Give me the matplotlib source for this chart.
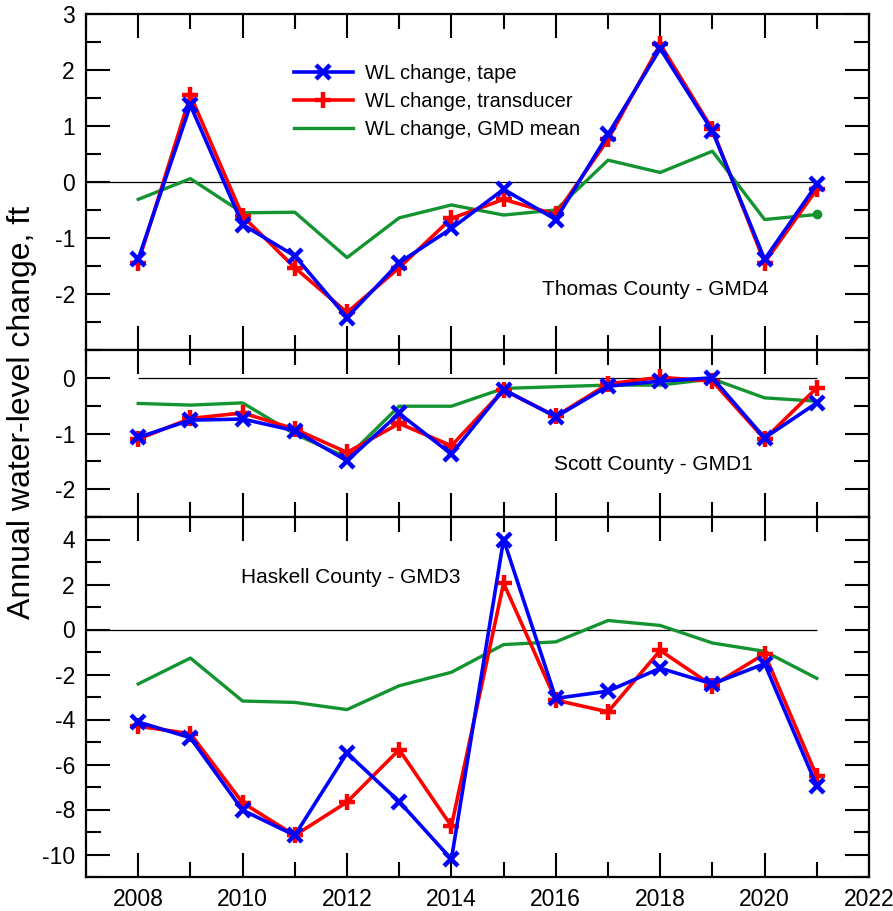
import matplotlib
matplotlib.use('Agg')
import matplotlib.pyplot as plt
from matplotlib.ticker import MultipleLocator

plt.rcParams['font.family'] = ['Liberation Sans', 'DejaVu Sans']
plt.rcParams['axes.unicode_minus'] = False

# data
years = list(range(2008, 2022))

thomas_tape = [-1.38, 1.37, -0.76, -1.32, -2.42, -1.44, -0.83, -0.13, -0.67, 0.85, 2.38, 0.91, -1.38, -0.04]
thomas_trans = [-1.44, 1.55, -0.61, -1.53, -2.33, -1.53, -0.65, -0.31, -0.58, 0.76, 2.46, 0.94, -1.44, -0.13]
thomas_gmd = [-0.31, 0.06, -0.55, -0.54, -1.35, -0.64, -0.41, -0.59, -0.50, 0.39, 0.17, 0.55, -0.67, -0.58]

scott_tape = [-1.07, -0.76, -0.74, -0.95, -1.49, -0.64, -1.37, -0.21, -0.70, -0.15, -0.06, 0.00, -1.08, -0.45]
scott_trans = [-1.10, -0.73, -0.63, -0.92, -1.34, -0.82, -1.22, -0.22, -0.69, -0.11, 0.01, -0.06, -1.10, -0.18]
scott_gmd = [-0.46, -0.49, -0.45, -1.01, -1.43, -0.51, -0.51, -0.19, -0.16, -0.13, -0.13, -0.02, -0.36, -0.42]

haskell_tape = [-4.11, -4.81, -8.03, -9.15, -5.49, -7.65, -10.21, 4.0, -3.06, -2.74, -1.72, -2.42, -1.52, -6.95]
haskell_trans = [-4.30, -4.63, -7.70, -9.15, -7.67, -5.34, -8.74, 2.06, -3.14, -3.66, -0.93, -2.50, -1.08, -6.53]
haskell_gmd = [-2.42, -1.27, -3.18, -3.24, -3.56, -2.50, -1.90, -0.67, -0.55, 0.40, 0.18, -0.60, -0.97, -2.17]

fig = plt.figure(figsize=(8.93, 9.11), dpi=100)
W, H = 893, 911
left, right = 86 / W, 869 / W

def add_panel(top_px, bot_px):
    return fig.add_axes([left, 1 - bot_px / H, right - left, (bot_px - top_px) / H])

ax1 = add_panel(14, 350)
ax2 = add_panel(350, 517)
ax3 = add_panel(517, 877)

panels = [
    (ax1, thomas_tape, thomas_trans, thomas_gmd, (-3, 3), 1, 0.5, 2007),
    (ax2, scott_tape, scott_trans, scott_gmd, (-2.5, 0.5), 1, 0.5, 2008),
    (ax3, haskell_tape, haskell_trans, haskell_gmd, (-11, 5), 2, 1, 2007),
]

for ax, tape, trans, gmd, ylim, ymaj, ymin, zstart in panels:
    ax.hlines(0, zstart, 2021, color='black', lw=0.9, zorder=1)
    ax.plot(years, gmd, color='#139430', lw=2.4, label='WL change, GMD mean', zorder=2)
    ax.plot(years, trans, color='#ff0000', lw=2.6, marker='+', ms=12, mew=3.2,
            label='WL change, transducer', zorder=3)
    ax.plot(years, tape, color='#0000ff', lw=2.6, marker='x', ms=10, mew=3.2,
            label='WL change, tape', zorder=4)
    ax.set_xlim(2007, 2022)
    ax.set_ylim(*ylim)
    ax.xaxis.set_major_locator(MultipleLocator(2))
    ax.xaxis.set_minor_locator(MultipleLocator(1))
    ax.yaxis.set_major_locator(MultipleLocator(ymaj))
    ax.yaxis.set_minor_locator(MultipleLocator(ymin))
    ax.tick_params(which='both', direction='in', top=True, right=True, width=1.5,
                   labelsize=16.5, pad=8)
    ax.tick_params(which='major', length=17)
    ax.tick_params(which='minor', length=11)
    for s in ax.spines.values():
        s.set_linewidth(1.6)

# end marker on Thomas GMD mean
ax1.plot(years[-1], thomas_gmd[-1], 'o', color='#139430', ms=6, zorder=2)

ax1.set_yticks([-2, -1, 0, 1, 2, 3])
ax1.set_yticks([-3, -2.5, -1.5, -0.5, 0.5, 1.5, 2.5], minor=True)
ax2.set_yticks([-2, -1, 0])
ax2.set_yticks([-2.5, -1.5, -0.5, 0.5], minor=True)
ax3.set_yticks([-10, -8, -6, -4, -2, 0, 2, 4])
ax3.set_yticks([-11, -9, -7, -5, -3, -1, 1, 3, 5], minor=True)

ax1.tick_params(labelbottom=False)
ax2.tick_params(labelbottom=False)
ax3.set_xticks([2008, 2010, 2012, 2014, 2016, 2018, 2020, 2022])

# legend (order: tape, transducer, GMD)
handles, labels = ax1.get_legend_handles_labels()
order = [2, 1, 0]
ax1.legend([handles[i] for i in order], [labels[i] for i in order],
           loc='upper left', bbox_to_anchor=(0.266, 0.852), frameon=False,
           fontsize=14.5, handlelength=2.9, handletextpad=0.6,
           labelspacing=0.45, borderpad=0, borderaxespad=0)

ax1.text(2017.9, -1.92, 'Thomas County - GMD4', fontsize=15, ha='center', va='center')
ax2.text(2017.86, -1.55, 'Scott County - GMD1', fontsize=15, ha='center', va='center')
ax3.text(2012.08, 2.33, 'Haskell County - GMD3', fontsize=15, ha='center', va='center')

fig.text(22 / W, 1 - 412 / H, 'Annual water-level change, ft', rotation=90,
         fontsize=23, ha='center', va='center')

fig.savefig('out.png', dpi=100)
